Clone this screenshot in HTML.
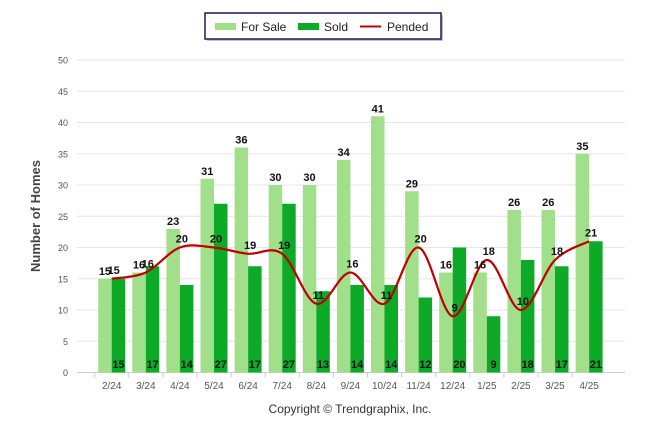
<!DOCTYPE html>
<html><head><meta charset="utf-8"><style>
body{margin:0;background:#fff;font-family:"Liberation Sans",Arial,sans-serif}
svg text{font-family:"Liberation Sans",Arial,sans-serif}
</style></head><body>
<svg id="chart" width="646" height="434" xmlns="http://www.w3.org/2000/svg">
<g id="grid"></g>
<g id="bars"></g>
<g id="line"></g>
<g id="labels"></g>
<text x="40" y="216" transform="rotate(-90 40 216)" text-anchor="middle" font-size="13" font-weight="bold" fill="#444">Number of Homes</text>
<text x="350" y="413" text-anchor="middle" font-size="12" fill="#333">Copyright © Trendgraphix, Inc.</text>
<g>
<rect x="207" y="15" width="236" height="26" fill="#888" opacity="0.5"/>
<rect x="205" y="13" width="236" height="26" fill="#fff" stroke="#1a1a5a" stroke-width="1.5"/>
<rect x="215" y="23" width="21" height="7" fill="#a1df8a"/>
<text x="241" y="31" font-size="12" fill="#222">For Sale</text>
<rect x="298" y="23" width="21" height="7" fill="#0daa27"/>
<text x="324" y="31" font-size="12" fill="#222">Sold</text>
<line x1="360" y1="26.5" x2="381" y2="26.5" stroke="#c00000" stroke-width="2"/>
<text x="387" y="31" font-size="12" fill="#222">Pended</text>
</g>
</svg>
<script>
const categories=["2/24","3/24","4/24","5/24","6/24","7/24","8/24","9/24","10/24","11/24","12/24","1/25","2/25","3/25","4/25"];
const forSale=[15,16,23,31,36,30,30,34,41,29,16,16,26,26,35];
const sold=[15,17,14,27,17,27,13,14,14,12,20,9,18,17,21];
const pended=[15,16,20,20,19,19,11,16,11,20,9,18,10,18,21];
const yTicks=[0,5,10,15,20,25,30,35,40,45,50];
const NS="http://www.w3.org/2000/svg";
const y0=372.5,y50=60,x0=111.7,step=34.1;
const y=v=>y0-(y0-y50)*v/50;
const x=i=>x0+i*step;
function mk(t,a,p){const e=document.createElementNS(NS,t);for(const k in a)e.setAttribute(k,a[k]);p.appendChild(e);return e;}
const grid=document.getElementById('grid');
yTicks.forEach(v=>{
 const l=mk('line',{x1:77,x2:625,y1:y(v),y2:y(v),stroke:v===0?'#ccc':'#e6e6e6','stroke-width':1},grid);
 
 
 const t=mk('text',{x:68,y:y(v)+3.5,'text-anchor':'end','font-size':9,fill:'#555'},grid);
 t.textContent=v;
 
 
});
categories.forEach((c,i)=>{
 const tk=mk('line',{x1:x(i)-17,x2:x(i)-17,y1:y0,y2:y0+5,stroke:'#ccc'},grid);
 
 
 const t=mk('text',{x:x(i),y:389,'text-anchor':'middle','font-size':10,fill:'#555'},grid);
 t.textContent=c;
 
 
});
const bars=document.getElementById('bars'),labels=document.getElementById('labels');
const bw=13.5;
categories.forEach((c,i)=>{
 const a=mk('rect',{x:x(i)-bw,y:y(forSale[i]),width:bw,height:y0-y(forSale[i]),fill:'#a1df8a'},bars);
 
 
 const b=mk('rect',{x:x(i),y:y(sold[i]),width:bw,height:y0-y(sold[i]),fill:'#0daa27'},bars);
 
 
 const t1=mk('text',{x:x(i)-bw/2,y:y(forSale[i])-4,'text-anchor':'middle','font-size':11,'font-weight':'bold',fill:'#111'},labels);
 t1.textContent=forSale[i];
 
 
 const t2=mk('text',{x:x(i)+bw/2,y:368,'text-anchor':'middle','font-size':11,'font-weight':'bold',fill:'#111'},labels);
 t2.textContent=sold[i];
 
 
 const t3=mk('text',{x:x(i)+2,y:y(pended[i])-5,'text-anchor':'middle','font-size':11,'font-weight':'bold',fill:'#111'},labels);
 t3.textContent=pended[i];
 
 
});
const pts=pended.map((v,i)=>[x(i),y(v)]);
let d='M'+pts[0][0]+','+pts[0][1];
for(let i=0;i<pts.length-1;i++){
 const p0=pts[Math.max(0,i-1)],p1=pts[i],p2=pts[i+1],p3=pts[Math.min(pts.length-1,i+2)];
 const k=1/6;
 d+=' C'+(p1[0]+(p2[0]-p0[0])*k)+','+(p1[1]+(p2[1]-p0[1])*k)+' '+(p2[0]-(p3[0]-p1[0])*k)+','+(p2[1]-(p3[1]-p1[1])*k)+' '+p2[0]+','+p2[1];
}
const ln=mk('path',{d:d,fill:'none',stroke:'#c00000','stroke-width':2.2},document.getElementById('line'));


</script>
</body></html>
